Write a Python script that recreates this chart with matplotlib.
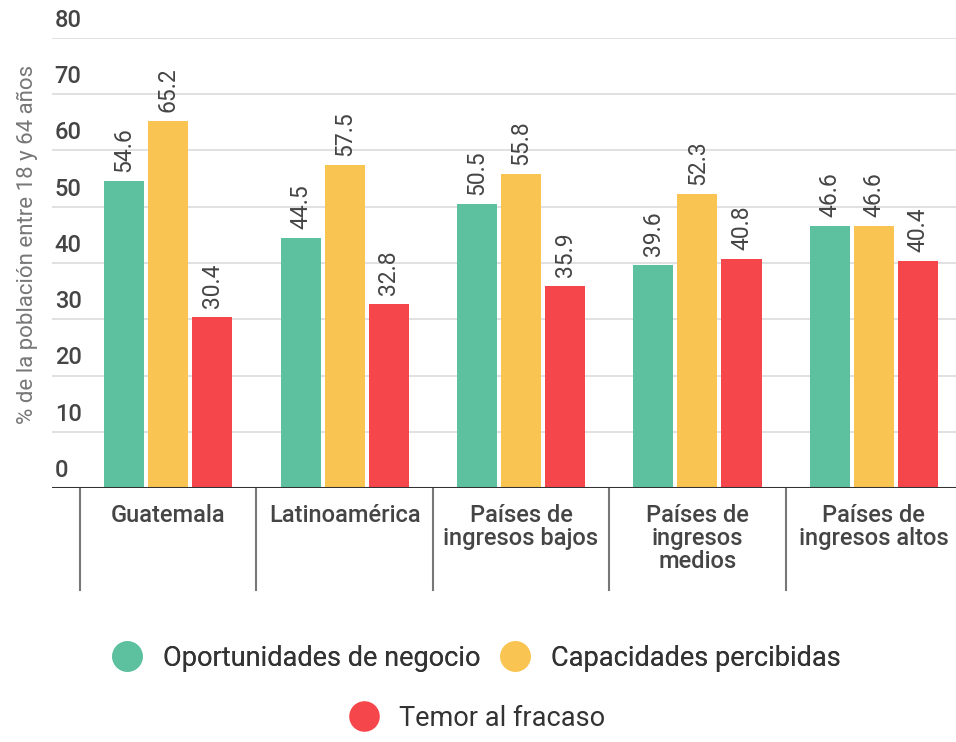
import numpy as np
import matplotlib.pyplot as plt
from matplotlib.lines import Line2D
from matplotlib.transforms import blended_transform_factory

plt.rcParams['font.family'] = ['Roboto', 'DejaVu Sans']

categories = ['Guatemala', 'Latinoamérica', 'Países de\ningresos bajos',
              'Países de\ningresos\nmedios', 'Países de\ningresos altos']
series_names = ['Oportunidades de negocio', 'Capacidades percibidas', 'Temor al fracaso']
oportunidades = [54.6, 44.5, 50.5, 39.6, 46.6]
capacidades = [65.2, 57.5, 55.8, 52.3, 46.6]
temor = [30.4, 32.8, 35.9, 40.8, 40.4]
colors = ['#5dc09e', '#f9c451', '#f5464b']
yticks = [0, 10, 20, 30, 40, 50, 60, 70, 80]

text_col = '#454545'

fig = plt.figure(figsize=(9.56, 7.42), dpi=100)
ax = fig.add_axes([0.0544, 0.3423, 0.9456, 0.6065])

x = np.arange(len(categories))
width = 0.227
offsets = [-0.25, 0.0, 0.25]
for vals, off, col in zip([oportunidades, capacidades, temor], offsets, colors):
    bars = ax.bar(x + off, vals, width, color=col, zorder=2)
    for b, v in zip(bars, vals):
        ax.text(b.get_x() + b.get_width() / 2, v + 1.6, f'{v:.1f}',
                rotation=90, ha='center', va='bottom', fontsize=16.5,
                color=text_col)

ax.set_xlim(-0.659, 4.466)
ax.set_ylim(0, 80)

# gridlines and y labels drawn by hand (labels sit above the lines)
for t in yticks[1:]:
    ax.axhline(t, color='#dcdcdc', lw=1.2, zorder=0)
trans = blended_transform_factory(ax.transAxes, ax.transData)
for t in yticks:
    ax.text(0.003, t + 1.1, str(t), transform=trans, ha='left', va='bottom',
            fontsize=17, color=text_col, fontweight='medium', clip_on=False)
ax.axhline(0, color='#333333', lw=2.2, zorder=3)

# category separators under the axis
for s in np.arange(-0.5, len(categories), 1.0):
    ax.plot([s, s], [0, -18.1], color='#777777', lw=1.5, clip_on=False)
for xi, c in zip(x, categories):
    ax.text(xi, -2.8, c, ha='center', va='top', fontsize=17, color=text_col,
            fontweight='medium', linespacing=1.02, clip_on=False)

ax.set_xticks([])
ax.set_yticks([])
for sp in ax.spines.values():
    sp.set_visible(False)

fig.text(0.029, 0.67, '% de la población entre 18 y 64 años', rotation=90,
         ha='center', va='center', fontsize=16, color='#777777')

handles = [Line2D([], [], marker='o', ls='', markersize=21, color=c) for c in colors]
leg1 = fig.legend(handles[:2], series_names[:2], loc='center', ncol=2,
                  bbox_to_anchor=(0.499, 0.113), frameon=False, fontsize=19.5,
                  handlelength=1.0, handletextpad=0.8, columnspacing=0.8,
                  labelcolor='#333333')
fig.add_artist(leg1)
fig.legend(handles[2:], series_names[2:], loc='center',
           bbox_to_anchor=(0.5, 0.032), frameon=False, fontsize=19.5,
           handlelength=1.0, handletextpad=0.8, labelcolor='#333333')

fig.savefig('out.png', dpi=100)
